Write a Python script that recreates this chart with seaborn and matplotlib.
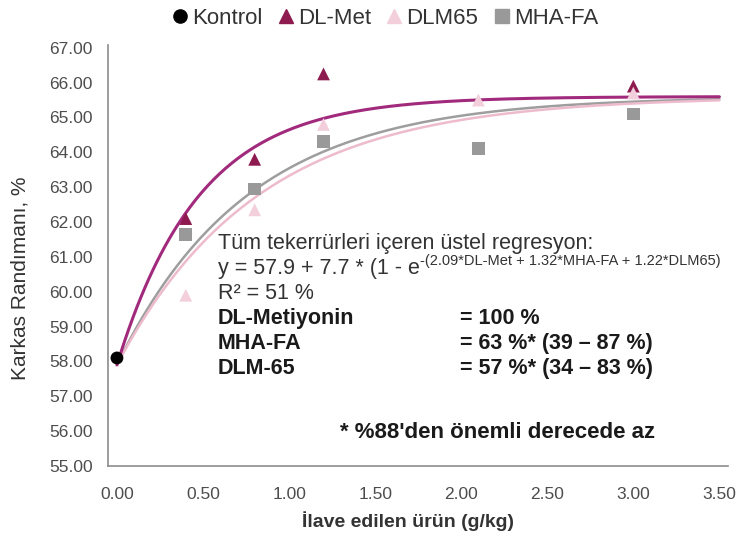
import numpy as np
import pandas as pd
import matplotlib
matplotlib.use("Agg")
import matplotlib.pyplot as plt
import seaborn as sns
from matplotlib.lines import Line2D

# ---- data ----
groups = ["Kontrol", "DL-Met", "DLM65", "MHA-FA"]
kontrol_x = [0.0]
kontrol_y = [58.1]
dose_x = [0.4, 0.8, 1.2, 3.0]
dlmet_y = [62.1, 63.8, 66.25, 65.9]
dlm65_x = [0.4, 0.8, 1.2, 2.1, 3.0]
dlm65_y = [59.9, 62.35, 64.8, 65.5, 65.7]
mhafa_x = [0.4, 0.8, 1.2, 2.1, 3.0]
mhafa_y = [61.65, 62.95, 64.3, 64.1, 65.1]

# regression printed on the chart
fit_base = 57.9
fit_amp = 7.7
fit_rate = {"DL-Met": 2.09, "MHA-FA": 1.32, "DLM65": 1.22}

x_ticks = [0.0, 0.5, 1.0, 1.5, 2.0, 2.5, 3.0, 3.5]
y_ticks = [55, 56, 57, 58, 59, 60, 61, 62, 63, 64, 65, 66, 67]

colors = {"Kontrol": "#000000", "DL-Met": "#8E1B4F",
          "DLM65": "#F3CFDB", "MHA-FA": "#999999"}
line_colors = {"DL-Met": "#A12A7C", "DLM65": "#EDBBCD", "MHA-FA": "#9E9E9E"}
markers = {"Kontrol": "o", "DL-Met": "^", "DLM65": "^", "MHA-FA": "s"}

pts = pd.concat([
    pd.DataFrame({"x": kontrol_x, "y": kontrol_y, "g": "Kontrol"}),
    pd.DataFrame({"x": dose_x, "y": dlmet_y, "g": "DL-Met"}),
    pd.DataFrame({"x": mhafa_x, "y": mhafa_y, "g": "MHA-FA"}),
    pd.DataFrame({"x": dlm65_x, "y": dlm65_y, "g": "DLM65"}),
], ignore_index=True)

xs = np.linspace(0, 3.5, 300)
curves = pd.concat([
    pd.DataFrame({"x": xs, "y": fit_base + fit_amp * (1 - np.exp(-r * xs)), "g": k})
    for k, r in [("MHA-FA", fit_rate["MHA-FA"]), ("DLM65", fit_rate["DLM65"]), ("DL-Met", fit_rate["DL-Met"])]
], ignore_index=True)

sns.set_theme(style="white")
plt.rcParams["font.family"] = ["Liberation Sans", "DejaVu Sans"]

fig = plt.figure(figsize=(7.42, 5.44), dpi=100)
ax = fig.add_axes([108 / 742, (544 - 466) / 544, 620 / 742, 421 / 544])

for g in ["MHA-FA", "DLM65", "DL-Met"]:
    sns.lineplot(data=curves[curves.g == g], x="x", y="y", color=line_colors[g],
                 lw=2.2 if g == "DL-Met" else 1.8, ax=ax, legend=False, zorder=2)

sns.scatterplot(data=pts, x="x", y="y", hue="g", style="g",
                hue_order=groups, style_order=groups,
                palette=colors, markers=markers, s=85, edgecolor="none",
                ax=ax, legend=False, zorder=3)

ax.set_xlim(-0.052, 3.55)
ax.set_ylim(55, 67.08)
ax.set_xticks(x_ticks)
ax.set_xticklabels([f"{v:.2f}" for v in x_ticks])
ax.set_yticks(y_ticks)
ax.set_yticklabels([f"{v:.2f}" for v in y_ticks])
ax.tick_params(axis="x", labelsize=12.5, colors="#4d4d4d", length=0, pad=15)
ax.tick_params(axis="y", labelsize=12.5, colors="#4d4d4d", length=0, pad=11)
for s in ["top", "right"]:
    ax.spines[s].set_visible(False)
for s in ["left", "bottom"]:
    ax.spines[s].set_color("#8C8C8C")
    ax.spines[s].set_linewidth(1.2)
ax.set_xlabel("İlave edilen ürün (g/kg)", fontsize=14, fontweight="bold", color="#333333")
ax.xaxis.set_label_coords((408 - 108) / 620, -(521 - 466) / 421)
ax.xaxis.label.set_va("center")
ax.set_ylabel("Karkas Randımanı, %", fontsize=15, color="#333333")
ax.yaxis.set_label_coords(-(108 - 20) / 620, (466 - 278) / 421)
ax.yaxis.label.set_va("center")

handles = [Line2D([], [], ls="none", marker=markers[g], color=colors[g], markersize=9.5) for g in groups]
fig.legend(handles, groups, loc="center", bbox_to_anchor=(384 / 742, 1 - 18 / 544), ncol=4,
           frameon=False, fontsize=16, handletextpad=0.1, columnspacing=0.6, handlelength=0.9,
           labelcolor="#333333")

tc = "#333333"
fs = 15.5
x0 = 0.587
x1 = 1.994
ax.text(x0, 61.38, "Tüm tekerrürleri içeren üstel regresyon:", fontsize=fs, color=tc, va="center")
t = ax.text(x0, 60.67, "y = 57.9 + 7.7 * (1 - e", fontsize=fs, color=tc, va="center")
ax.annotate("-(2.09*DL-Met + 1.32*MHA-FA + 1.22*DLM65)", xy=(1.0, 0.5), xycoords=t,
            fontsize=10.5, color=tc, va="bottom", ha="left", annotation_clip=False)
ax.text(x0, 59.95, "R² = 51 %", fontsize=fs, color=tc, va="center")
rows = [("DL-Metiyonin", "= 100 %", 59.24),
        ("MHA-FA", "= 63 %* (39 – 87 %)", 58.52),
        ("DLM-65", "= 57 %* (34 – 83 %)", 57.80)]
for a, b, yy in rows:
    ax.text(x0, yy, a, fontsize=fs, color="#1a1a1a", fontweight="bold", va="center")
    ax.text(x1, yy, b, fontsize=fs, color="#1a1a1a", fontweight="bold", va="center")
ax.text(1.297, 55.97, "* %88'den önemli derecede az", fontsize=16, color="#1a1a1a",
        fontweight="bold", va="center")

fig.savefig("out.png", dpi=100)
